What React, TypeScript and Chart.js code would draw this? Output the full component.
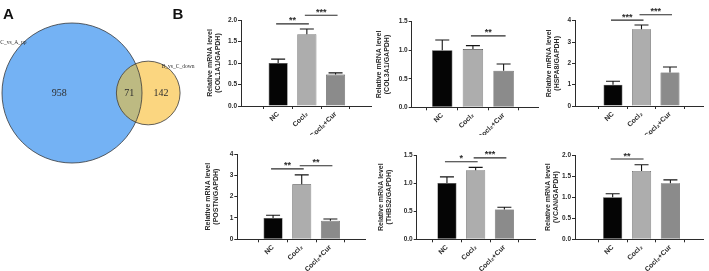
import React, { useEffect, useRef } from 'react';
import { Chart, registerables } from 'chart.js';

Chart.register(...registerables);

const SANS = '"Liberation Sans", Arial, sans-serif';
const SERIF = '"Liberation Serif", "Times New Roman", serif';

// ---- Panel A: overlap of the two differential gene sets ----
const vennSetNames = ['C_vs_A_up', 'B_vs_C_down'];
const vennOnlyFirst = 958;
const vennShared = 71;
const vennOnlySecond = 142;

// ---- Panel B: relative mRNA level (mean, error) per group ----
const groups = ['NC', 'Cocl₂', 'Cocl₂+Cur'];

const col1a1Mean = [1.0, 1.67, 0.73];
const col1a1Err = [0.09, 0.12, 0.04];
const col1a1Sig: [number, number, number, string][] = [[0, 1, 1.91, '**'], [1, 2, 2.11, '***']];

const col3a1Mean = [1.0, 1.02, 0.64];
const col3a1Err = [0.18, 0.06, 0.12];
const col3a1Sig: [number, number, number, string][] = [[1, 2, 1.25, '**']];

const hspa8Mean = [1.0, 3.6, 1.57];
const hspa8Err = [0.16, 0.2, 0.26];
const hspa8Sig: [number, number, number, string][] = [[0, 1, 4.03, '***'], [1, 2, 4.28, '***']];

const postnMean = [1.0, 2.58, 0.87];
const postnErr = [0.13, 0.44, 0.08];
const postnSig: [number, number, number, string][] = [[0, 1, 3.3, '**'], [1, 2, 3.45, '**']];

const thbs2Mean = [1.0, 1.23, 0.53];
const thbs2Err = [0.11, 0.05, 0.04];
const thbs2Sig: [number, number, number, string][] = [[0, 1, 1.38, '*'], [1, 2, 1.45, '***']];

const vcanMean = [1.0, 1.62, 1.33];
const vcanErr = [0.08, 0.15, 0.08];
const vcanSig: [number, number, number, string][] = [[0, 1, 1.905, '**']];

const barColors = ['#050505', '#adadad', '#8b8b8b'];
const inkColor = '#2b2b2b';

// geometry of each panel on the page (px)
type Geom = {
  titleX: number; axisX: number; rightX: number; topY: number; bottomY: number;
  row: number; xMin: number; xMax: number;
};

type PanelSpec = {
  gene: string; mean: number[]; err: number[]; sig: [number, number, number, string][];
  yMax: number; step: number; decimals: number; geom: Geom;
};

const panels: PanelSpec[] = [
  { gene: 'COL1A1', mean: col1a1Mean, err: col1a1Err, sig: col1a1Sig, yMax: 2.0, step: 0.5, decimals: 1,
    geom: { titleX: 210.5, axisX: 241, rightX: 371.7, topY: 20, bottomY: 106, row: 0, xMin: -0.535, xMax: 2.5 } },
  { gene: 'COL3A1', mean: col3a1Mean, err: col3a1Err, sig: col3a1Sig, yMax: 1.5, step: 0.5, decimals: 1,
    geom: { titleX: 379.5, axisX: 411.7, rightX: 538, topY: 21.7, bottomY: 107.3, row: 0, xMin: -0.31, xMax: 2.435 } },
  { gene: 'HSPA8', mean: hspa8Mean, err: hspa8Err, sig: hspa8Sig, yMax: 4, step: 1, decimals: 0,
    geom: { titleX: 549.5, axisX: 575, rightX: 703, topY: 20.7, bottomY: 106, row: 0, xMin: -0.585, xMax: 2.41 } },
  { gene: 'POSTN', mean: postnMean, err: postnErr, sig: postnSig, yMax: 4, step: 1, decimals: 0,
    geom: { titleX: 208, axisX: 237.3, rightX: 365, topY: 154, bottomY: 239.3, row: 1, xMin: -0.505, xMax: 2.465 } },
  { gene: 'THBS2', mean: thbs2Mean, err: thbs2Err, sig: thbs2Sig, yMax: 1.5, step: 0.5, decimals: 1,
    geom: { titleX: 381, axisX: 416.7, rightX: 535, topY: 155, bottomY: 239.3, row: 1, xMin: -0.367, xMax: 2.38 } },
  { gene: 'VCAN', mean: vcanMean, err: vcanErr, sig: vcanSig, yMax: 2.0, step: 0.5, decimals: 1,
    geom: { titleX: 548, axisX: 575, rightX: 703, topY: 155, bottomY: 239.3, row: 1, xMin: -0.566, xMax: 2.39 } },
];

const rowTop = [0, 135];
const rowHeight = [135, 136];
const titleSize = 7;
const titleLineHeight = 1.15;

function panelBox(g: Geom) {
  const lh = titleSize * titleLineHeight;
  const left = Math.floor(g.titleX - lh / 2 - 2);
  const top = rowTop[g.row];
  const height = rowHeight[g.row];
  const width = Math.ceil(g.rightX + 4 - left);
  return { left, top, width, height, titlePad: g.titleX - lh / 2 - left };
}

function BarPanel({ spec }: { spec: PanelSpec }) {
  const ref = useRef<HTMLCanvasElement | null>(null);
  const g = spec.geom;
  const box = panelBox(g);

  useEffect(() => {
    if (!ref.current) return;

    const overlay = {
      id: 'errorsAndBrackets',
      afterDatasetsDraw(chart: any) {
        const { ctx } = chart;
        const xs = chart.scales.x;
        const ys = chart.scales.y;
        ctx.save();
        // upper error whiskers
        ctx.strokeStyle = '#151515';
        ctx.lineWidth = 1.1;
        spec.mean.forEach((m, i) => {
          const x = xs.getPixelForValue(i);
          const y0 = ys.getPixelForValue(m);
          const y1 = ys.getPixelForValue(m + spec.err[i]);
          ctx.beginPath();
          ctx.moveTo(x, y0);
          ctx.lineTo(x, y1);
          ctx.moveTo(x - 7, y1);
          ctx.lineTo(x + 7, y1);
          ctx.stroke();
        });
        // significance brackets
        ctx.strokeStyle = inkColor;
        ctx.lineWidth = 1.2;
        ctx.fillStyle = inkColor;
        ctx.font = `bold 9px ${SANS}`;
        ctx.textAlign = 'center';
        ctx.textBaseline = 'alphabetic';
        spec.sig.forEach(([a, b, yv, label]) => {
          const x1 = xs.getPixelForValue(a);
          const x2 = xs.getPixelForValue(b);
          const y = ys.getPixelForValue(yv);
          ctx.beginPath();
          ctx.moveTo(x1 - 2, y);
          ctx.lineTo(x2 + 2, y);
          ctx.stroke();
          ctx.fillText(label, (x1 + x2) / 2, y - 0.5);
        });
        ctx.restore();
      },
    };

    const yWidth = g.axisX - box.left;
    const xHeight = box.top + box.height - g.bottomY;

    const chart = new Chart(ref.current, {
      type: 'bar',
      data: {
        datasets: [
          {
            data: spec.mean.map((v, i) => ({ x: i, y: v })),
            backgroundColor: barColors,
            borderColor: '#3d3d3d',
            borderWidth: 0.6,
            barPercentage: 0.665,
            categoryPercentage: 1,
          },
        ],
      },
      options: {
        responsive: false,
        animation: false,
        devicePixelRatio: 1,
        events: [],
        layout: { padding: { top: g.topY - box.top, right: box.left + box.width - g.rightX, left: 0, bottom: 0 } },
        plugins: { legend: { display: false }, tooltip: { enabled: false } },
        scales: {
          x: {
            type: 'linear',
            min: g.xMin,
            max: g.xMax,
            afterBuildTicks: (s: any) => {
              s.ticks = groups.map((_, i) => ({ value: i }));
            },
            afterFit: (s: any) => {
              s.height = xHeight;
            },
            grid: { drawOnChartArea: false, drawTicks: true, tickLength: 3, color: inkColor, lineWidth: 1 },
            border: { display: true, color: inkColor, width: 1 },
            ticks: {
              autoSkip: false,
              maxRotation: 45,
              minRotation: 45,
              padding: 1,
              color: inkColor,
              font: { family: SANS, size: 7, weight: 'bold' },
              callback: (v: any) => groups[Math.round(Number(v))] ?? '',
            },
          },
          y: {
            type: 'linear',
            min: 0,
            max: spec.yMax,
            afterFit: (s: any) => {
              s.width = yWidth;
            },
            grid: { drawOnChartArea: false, drawTicks: true, tickLength: 3, color: inkColor, lineWidth: 1 },
            border: { display: true, color: inkColor, width: 1 },
            ticks: {
              stepSize: spec.step,
              padding: 1,
              color: inkColor,
              font: { family: SANS, size: 6.5, weight: 'bold' },
              callback: (v: any) => Number(v).toFixed(spec.decimals),
            },
            title: {
              display: true,
              text: ['Relative mRNA level', `(${spec.gene}/GAPDH)`],
              color: inkColor,
              font: { family: SANS, size: titleSize, weight: 'bold', lineHeight: titleLineHeight },
              padding: { top: box.titlePad, bottom: 0 },
            },
          },
        },
      } as any,
      plugins: [overlay],
    });
    return () => chart.destroy();
  }, []);

  return (
    <canvas
      ref={ref}
      width={box.width}
      height={box.height}
      style={{ position: 'absolute', left: box.left, top: box.top, width: box.width, height: box.height }}
    />
  );
}

// intersection area of two circles
function lensArea(r1: number, r2: number, d: number) {
  if (d >= r1 + r2) return 0;
  if (d <= Math.abs(r1 - r2)) return Math.PI * Math.min(r1, r2) ** 2;
  const a = r1 * r1 * Math.acos((d * d + r1 * r1 - r2 * r2) / (2 * d * r1));
  const b = r2 * r2 * Math.acos((d * d + r2 * r2 - r1 * r1) / (2 * d * r2));
  const c = 0.5 * Math.sqrt((-d + r1 + r2) * (d + r1 - r2) * (d - r1 + r2) * (d + r1 + r2));
  return a + b - c;
}

function VennPanel() {
  const ref = useRef<HTMLCanvasElement | null>(null);
  const W = 200;
  const H = 200;

  useEffect(() => {
    if (!ref.current) return;
    // circle areas proportional to set sizes
    const rA = Math.sqrt((vennOnlyFirst + vennShared) / Math.PI);
    const rB = Math.sqrt((vennOnlySecond + vennShared) / Math.PI);
    let lo = Math.abs(rA - rB);
    let hi = rA + rB;
    for (let i = 0; i < 60; i++) {
      const mid = (lo + hi) / 2;
      if (lensArea(rA, rB, mid) > vennShared) lo = mid;
      else hi = mid;
    }
    const d = (lo + hi) / 2;

    const k = 70 / rA; // px per unit
    const cxPx = 72;
    const cyPx = 93;

    const vennDraw = {
      id: 'vennDraw',
      afterDatasetsDraw(chart: any) {
        const { ctx } = chart;
        const xs = chart.scales.x;
        const ys = chart.scales.y;
        const px = (v: number) => xs.getPixelForValue(v);
        const py = (v: number) => ys.getPixelForValue(v);
        const pr = (r: number) => Math.abs(xs.getPixelForValue(r) - xs.getPixelForValue(0));

        const aX = px(0), aY = py(0), aR = pr(rA);
        const bX = px(d), bY = py(0), bR = pr(rB);

        ctx.save();
        ctx.fillStyle = '#74b2f4';
        ctx.beginPath();
        ctx.arc(aX, aY, aR, 0, Math.PI * 2);
        ctx.fill();
        ctx.fillStyle = '#fbd680';
        ctx.beginPath();
        ctx.arc(bX, bY, bR, 0, Math.PI * 2);
        ctx.fill();
        // shared region
        ctx.save();
        ctx.beginPath();
        ctx.arc(aX, aY, aR, 0, Math.PI * 2);
        ctx.clip();
        ctx.fillStyle = '#bdba82';
        ctx.beginPath();
        ctx.arc(bX, bY, bR, 0, Math.PI * 2);
        ctx.fill();
        ctx.restore();

        ctx.strokeStyle = '#3a3a3a';
        ctx.lineWidth = 0.8;
        ctx.beginPath();
        ctx.arc(aX, aY, aR, 0, Math.PI * 2);
        ctx.stroke();
        ctx.beginPath();
        ctx.arc(bX, bY, bR, 0, Math.PI * 2);
        ctx.stroke();

        // region counts
        ctx.fillStyle = '#2e2e2e';
        ctx.font = `10px ${SERIF}`;
        ctx.textAlign = 'center';
        ctx.textBaseline = 'middle';
        ctx.fillText(String(vennOnlyFirst), px((-rA + d - rB) / 2), py(0));
        ctx.fillText(String(vennShared), px((d - rB + rA) / 2), py(0));
        ctx.fillText(String(vennOnlySecond), px((rA + d + rB) / 2), py(0));

        // set names
        ctx.font = `5.5px ${SERIF}`;
        const angA = (139.5 * Math.PI) / 180;
        const angB = (41.5 * Math.PI) / 180;
        ctx.fillText(vennSetNames[0], px(Math.cos(angA) * rA * 1.1), py(Math.sin(angA) * rA * 1.1));
        ctx.fillText(vennSetNames[1], px(d + Math.cos(angB) * rB * 1.25), py(Math.sin(angB) * rB * 1.25));

        // panel letters
        ctx.fillStyle = '#111';
        ctx.font = `bold 15px ${SANS}`;
        ctx.textAlign = 'left';
        ctx.textBaseline = 'alphabetic';
        ctx.fillText('A', 3, 18.5);
        ctx.fillText('B', 172.5, 18.5);
        ctx.restore();
      },
    };

    const chart = new Chart(ref.current, {
      type: 'scatter',
      data: { datasets: [{ data: [] }] },
      options: {
        responsive: false,
        animation: false,
        devicePixelRatio: 1,
        events: [],
        layout: { padding: 0 },
        plugins: { legend: { display: false }, tooltip: { enabled: false } },
        scales: {
          x: { type: 'linear', display: false, min: -cxPx / k, max: (W - cxPx) / k },
          y: { type: 'linear', display: false, min: -(H - cyPx) / k, max: cyPx / k },
        },
      } as any,
      plugins: [vennDraw],
    });
    return () => chart.destroy();
  }, []);

  return (
    <canvas
      ref={ref}
      width={W}
      height={H}
      style={{ position: 'absolute', left: 0, top: 0, width: W, height: H }}
    />
  );
}

export default function App() {
  return (
    <div style={{ position: 'absolute', left: 0, top: 0, width: 709, height: 271, background: '#ffffff', overflow: 'hidden' }}>
      <VennPanel />
      {panels.map((p) => (
        <BarPanel key={p.gene} spec={p} />
      ))}
    </div>
  );
}
